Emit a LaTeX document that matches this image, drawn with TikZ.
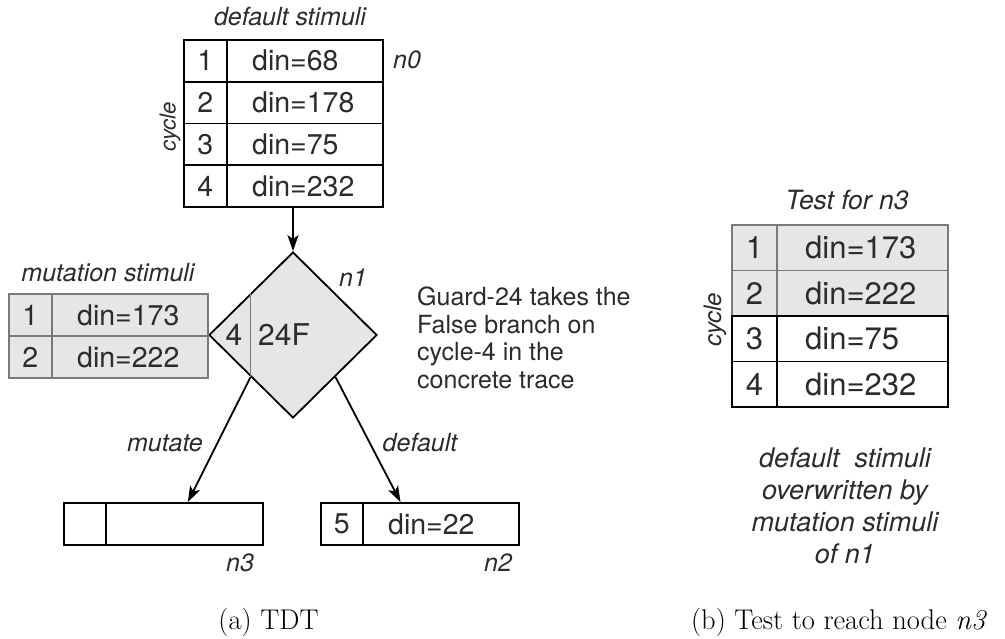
\documentclass[tikz,border=0pt]{standalone}
\usepackage{fontspec}
\newfontfamily\hv{TeX Gyre Heros}
\usetikzlibrary{shapes.geometric,arrows.meta,calc}
\definecolor{ink}{HTML}{2B2B2B}
\definecolor{shade}{HTML}{E6E6E6}
\definecolor{rule}{HTML}{7A7A7A}

\begin{document}
\begin{tikzpicture}[x=1pt,y=-1pt,
  cell/.style={draw=black, line width=1.8pt, inner sep=0pt, anchor=north west,
               fill=white, text=ink, font=\hv\fontsize{28.5}{34}\selectfont},
  mcell/.style={cell, draw=rule, fill=shade},
  val/.style={anchor=west, inner sep=0pt, text=ink, font=\hv\fontsize{28.5}{34}\selectfont},
  bigval/.style={val, font=\hv\fontsize{31}{36}\selectfont},
  tag/.style={inner sep=0pt, text=ink, font=\hv\itshape\fontsize{25}{30}\selectfont},
  arr/.style={line width=1.8pt, -{Stealth[length=16pt,width=11pt,inset=4pt]}},
  subcap/.style={inner sep=0pt, font=\fontsize{28.5}{34}\selectfont}]
\useasboundingbox (0,0) rectangle (1005,638);

% ---- n0: default stimuli ----
\node[tag] (t0) at (290,17) {default stimuli};
\node[cell, minimum width=43pt, minimum height=41.75pt] (a1) at (183,39) {1};
\node[cell, minimum width=156pt, minimum height=41.75pt] (a1v) at (226,39) {};
\node[val] at ([xshift=26pt]a1v.west) {din=68};
\node[cell, minimum width=43pt, minimum height=41.75pt] (a2) at (183,80.75) {2};
\node[cell, minimum width=156pt, minimum height=41.75pt] (a2v) at (226,80.75) {};
\node[val] at ([xshift=26pt]a2v.west) {din=178};
\node[cell, minimum width=43pt, minimum height=41.75pt] (a3) at (183,122.5) {3};
\node[cell, minimum width=156pt, minimum height=41.75pt] (a3v) at (226,122.5) {};
\node[val] at ([xshift=26pt]a3v.west) {din=75};
\node[cell, minimum width=43pt, minimum height=41.75pt] (a4) at (183,164.25) {4};
\node[cell, minimum width=156pt, minimum height=41.75pt] (a4v) at (226,164.25) {};
\node[val] at ([xshift=26pt]a4v.west) {din=232};
\node[tag] (l0) at (407,60) {n0};
\node[tag, rotate=90, font=\hv\itshape\fontsize{22}{26}\selectfont] (cyc0) at (170,127) {cycle};

% ---- n1: decision node ----
\node[diamond, draw=black, line width=1.8pt, fill=shade, inner sep=0pt,
      minimum width=168pt, minimum height=166pt] (n1) at (293,335) {};
\draw[rule, line width=1.5pt] ($(n1.north)!0.5!(n1.west)$) -- ($(n1.south)!0.5!(n1.west)$);
\node[inner sep=0pt, text=ink, font=\hv\fontsize{30}{36}\selectfont] (cyc4) at (234,335) {4};
\node[inner sep=0pt, text=ink, font=\hv\fontsize{30}{36}\selectfont] (g24) at (284,335) {24F};
\node[tag] (l1) at (353,278) {n1};

% ---- mutation stimuli ----
\node[tag] (tm) at (108,273) {mutation stimuli};
\node[mcell, minimum width=43pt, minimum height=42pt] (m1) at (8,293) {1};
\node[mcell, minimum width=156pt, minimum height=42pt] (m1v) at (51,293) {};
\node[val] at ([xshift=26pt]m1v.west) {din=173};
\node[mcell, minimum width=43pt, minimum height=42pt] (m2) at (8,335) {2};
\node[mcell, minimum width=156pt, minimum height=42pt] (m2v) at (51,335) {};
\node[val] at ([xshift=26pt]m2v.west) {din=222};

% ---- explanation ----
\node[anchor=west, align=left, inner sep=0pt, text=ink, font=\hv\fontsize{25}{27.5}\selectfont] (guard)
  at (417,338) {Guard-24 takes the\\False branch on\\cycle-4 in the\\concrete trace};

% ---- n3 and n2 ----
\node[cell, minimum width=42pt, minimum height=42pt] (c1) at (63,502) {};
\node[cell, minimum width=157pt, minimum height=42pt] (c1v) at (105,502) {};
\node[tag] (l3) at (240,563) {n3};
\node[cell, minimum width=42pt, minimum height=42pt] (b1) at (320,502) {5};
\node[cell, minimum width=156pt, minimum height=42pt] (b1v) at (362,502) {};
\node[val] at ([xshift=26pt]b1v.west) {din=22};
\node[tag] (l2) at (498,563) {n2};

% ---- edges ----
\draw[arr] (n1.north |- a4v.south) -- (n1.north);
\coordinate (mutfrom) at ($(n1.south)!0.5!(n1.west)$);
\coordinate (deffrom) at ($(n1.south)!0.5!(n1.east)$);
\coordinate (mutto) at ($(c1v.north west)!0.522!(c1v.north east)$);
\coordinate (defto) at ($(b1v.north west)!0.244!(b1v.north east)$);
\draw[arr] (mutfrom) -- (mutto);
\draw[arr] (deffrom) -- (defto);
\node[tag] (em) at (165,443) {mutate};
\node[tag] (ed) at (420,443) {default};

% ---- test for n3 ----
\node[tag, font=\hv\itshape\fontsize{26.5}{30}\selectfont] (tt) at (847,200) {Test for n3};
\node[mcell, minimum width=45pt, minimum height=45.5pt, font=\hv\fontsize{31}{36}\selectfont] (r1) at (731,224) {1};
\node[mcell, minimum width=171pt, minimum height=45.5pt] (r1v) at (776,224) {};
\node[bigval] at ([xshift=29pt]r1v.west) {din=173};
\node[mcell, minimum width=45pt, minimum height=45.5pt, font=\hv\fontsize{31}{36}\selectfont] (r2) at (731,269.5) {2};
\node[mcell, minimum width=171pt, minimum height=45.5pt] (r2v) at (776,269.5) {};
\node[bigval] at ([xshift=29pt]r2v.west) {din=222};
\node[cell, minimum width=45pt, minimum height=45.5pt, font=\hv\fontsize{31}{36}\selectfont] (r3) at (731,315) {3};
\node[cell, minimum width=171pt, minimum height=45.5pt] (r3v) at (776,315) {};
\node[bigval] at ([xshift=29pt]r3v.west) {din=75};
\node[cell, minimum width=45pt, minimum height=45.5pt, font=\hv\fontsize{31}{36}\selectfont] (r4) at (731,360.5) {4};
\node[cell, minimum width=171pt, minimum height=45.5pt] (r4v) at (776,360.5) {};
\node[bigval] at ([xshift=29pt]r4v.west) {din=232};
\node[tag, rotate=90, font=\hv\itshape\fontsize{24}{28}\selectfont] (cyc1) at (715,320) {cycle};

\node[align=center, inner sep=0pt, text=ink, font=\hv\itshape\fontsize{27}{32}\selectfont] (note)
  at (845,506) {default\ \ stimuli\\overwritten by\\mutation stimuli\\of n1};

% ---- captions ----
\node[subcap] (capa) at (268.5,622) {(a) TDT};
\node[subcap] (capb) at (839,622) {(b) Test to reach node \textit{n3}};
\end{tikzpicture}
\end{document}
